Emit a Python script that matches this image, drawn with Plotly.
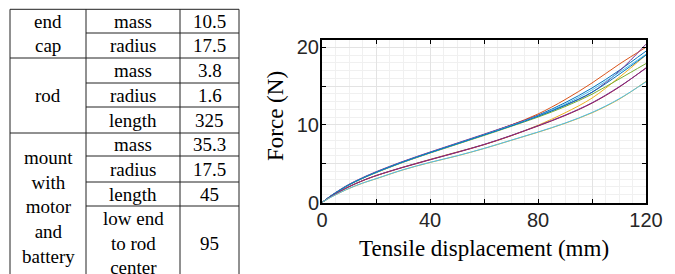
import plotly.graph_objects as go

# ---------------- data ----------------
disp_mm = [0, 2.5, 5, 10, 15, 20, 30, 40, 50, 60, 70, 80, 90, 100, 110, 120]

force_blue = [0, 0.66, 1.25, 2.3, 3.15, 3.9, 5.25, 6.45, 7.6, 8.75, 9.95, 11.25, 12.85, 14.75, 17.0, 19.5]
force_orange = [0, 0.64, 1.22, 2.27, 3.12, 3.86, 5.2, 6.4, 7.55, 8.72, 9.98, 11.4, 13.25, 15.4, 17.8, 20.0]
force_yellow = [0, 0.58, 1.1, 2.03, 2.8, 3.45, 4.55, 5.55, 6.5, 7.45, 8.6, 9.95, 11.55, 13.45, 16.1, 19.0]
force_purple = [0, 0.68, 1.28, 2.35, 3.2, 3.96, 5.3, 6.5, 7.65, 8.8, 9.98, 11.2, 12.55, 14.2, 16.9, 20.4]
force_green = [0, 0.64, 1.22, 2.26, 3.1, 3.84, 5.17, 6.37, 7.5, 8.63, 9.8, 11.0, 12.35, 13.95, 15.9, 17.9]
force_lightblue = [0, 0.65, 1.24, 2.28, 3.13, 3.88, 5.22, 6.42, 7.57, 8.72, 9.9, 11.15, 12.65, 14.5, 16.75, 19.1]
force_darkred = [0, 0.58, 1.1, 2.03, 2.8, 3.45, 4.52, 5.5, 6.45, 7.45, 8.6, 9.85, 11.2, 12.8, 14.85, 17.35]
force_blue2 = [0, 0.65, 1.24, 2.28, 3.13, 3.88, 5.22, 6.42, 7.56, 8.7, 9.85, 11.1, 12.5, 14.2, 16.5, 19.0]
force_purple2 = [0, 0.59, 1.11, 2.05, 2.82, 3.47, 4.55, 5.53, 6.48, 7.48, 8.63, 9.9, 11.25, 12.85, 14.9, 17.3]
force_yellow2 = [0, 0.52, 0.98, 1.8, 2.48, 3.05, 4.2, 5.15, 6.0, 6.95, 8.0, 9.05, 10.2, 11.55, 13.3, 15.6]
force_lightblue2 = [0, 0.52, 0.99, 1.82, 2.5, 3.07, 4.22, 5.17, 6.02, 6.97, 8.02, 9.08, 10.23, 11.6, 13.35, 15.55]

series = [
    (force_blue, "#0072BD"),
    (force_orange, "#D95319"),
    (force_yellow, "#EDB120"),
    (force_purple, "#7E2F8E"),
    (force_green, "#77AC30"),
    (force_lightblue, "#4DBEEE"),
    (force_darkred, "#A2142F"),
    (force_blue2, "#0072BD"),
    (force_purple2, "#7E2F8E"),
    (force_yellow2, "#EDB120"),
    (force_lightblue2, "#4DBEEE"),
]

x_tickvals = [0, 20, 40, 60, 80, 100, 120]
x_ticktext = ["0", "", "40", "", "80", "", "120"]
y_tickvals = [0, 5, 10, 15, 20]
y_ticktext = ["0", "", "10", "", "20"]

x_title = "Tensile displacement (mm)"
y_title = "Force (N)"

# table content
table_group_labels = [("end", 0, 1), ("cap", 1, 2), ("rod", 2, 5),
                      ("mount<br>with<br>motor<br>and<br>battery", 5, 9)]
table_params = ["mass", "radius", "mass", "radius", "length", "mass", "radius", "length",
                "low end<br>to rod<br>center"]
table_values = ["10.5", "17.5", "3.8", "1.6", "325", "35.3", "17.5", "45", "95"]

# ---------------- figure ----------------
W, H = 675, 274
fig = go.Figure()
for ys, col in series:
    fig.add_trace(go.Scatter(x=disp_mm, y=ys, mode="lines",
                             line=dict(color=col, width=1, shape="spline", smoothing=1.0),
                             hoverinfo="skip", showlegend=False))

px0, px1, py_top, py_bot = 322, 646, 39.5, 202.5
def fx(p):
    return p / W
def fy(p):
    return 1 - p / H

axis_common = dict(showline=True, linecolor="black", linewidth=2, mirror="allticks",
                   ticks="inside", ticklen=4, tickcolor="black", tickwidth=1,
                   tickfont=dict(family="Liberation Sans, Arial", size=20, color="#262626"),
                   gridcolor="#e3e3e3", gridwidth=1, zeroline=False, automargin=False)

fig.update_layout(
    width=W, height=H, margin=dict(l=0, r=0, t=0, b=0, autoexpand=False),
    paper_bgcolor="white", plot_bgcolor="white",
    xaxis=dict(domain=[fx(px0), fx(px1)], range=[0, 120], tickvals=x_tickvals, ticktext=x_ticktext,
               minor=dict(dtick=5, showgrid=True, gridcolor="#f0f0f0", ticks=""),
               ticklabelstandoff=-2, **axis_common),
    yaxis=dict(domain=[fy(py_bot), fy(py_top)], range=[0, 21], tickvals=y_tickvals, ticktext=y_ticktext,
               minor=dict(dtick=1, showgrid=True, gridcolor="#f0f0f0", ticks=""),
               ticklabelstandoff=-3, **axis_common),
)

serif = "Liberation Serif"
fig.add_annotation(text=x_title, xref="paper", yref="paper", x=fx(484), y=fy(248),
                   showarrow=False, font=dict(family=serif, size=23, color="black"),
                   xanchor="center", yanchor="middle")
fig.add_annotation(text=y_title, xref="paper", yref="paper", x=fx(276), y=fy(116),
                   showarrow=False, textangle=-90, font=dict(family=serif, size=23, color="black"),
                   xanchor="center", yanchor="middle")

# ---------------- table ----------------
col_x = [10, 86, 180, 239]
row_y = [9.3, 33, 58, 83, 107, 133, 156, 182, 206, 280]
line_style = dict(color="#222222", width=1)
shapes = []
for cx in col_x:
    shapes.append(dict(type="line", xref="paper", yref="paper", x0=fx(cx), x1=fx(cx),
                       y0=fy(row_y[0]), y1=fy(row_y[-1]), line=line_style))
full_rows = {0, 2, 5}
for i, ry in enumerate(row_y[:-1]):
    x_start = col_x[0] if i in full_rows else col_x[1]
    shapes.append(dict(type="line", xref="paper", yref="paper", x0=fx(x_start), x1=fx(col_x[-1]),
                       y0=fy(ry), y1=fy(ry), line=line_style))
fig.update_layout(shapes=shapes)

tfont = dict(family=serif, size=19, color="black")
for text, r0, r1 in table_group_labels:
    yc = (row_y[r0] + row_y[r1]) / 2
    fig.add_annotation(text=text, xref="paper", yref="paper", x=fx((col_x[0] + col_x[1]) / 2), y=fy(yc),
                       showarrow=False, font=tfont, xanchor="center", yanchor="middle")
for i, (p, v) in enumerate(zip(table_params, table_values)):
    yc = (row_y[i] + row_y[i + 1]) / 2
    fig.add_annotation(text=p, xref="paper", yref="paper", x=fx((col_x[1] + col_x[2]) / 2), y=fy(yc),
                       showarrow=False, font=tfont, xanchor="center", yanchor="middle")
    fig.add_annotation(text=v, xref="paper", yref="paper", x=fx((col_x[2] + col_x[3]) / 2), y=fy(yc),
                       showarrow=False, font=tfont, xanchor="center", yanchor="middle")

fig.write_html("out.html", config={"displayModeBar": False},
               post_script="document.body.style.margin='0';document.body.style.padding='0';"
                           "document.documentElement.style.overflow='hidden';")
